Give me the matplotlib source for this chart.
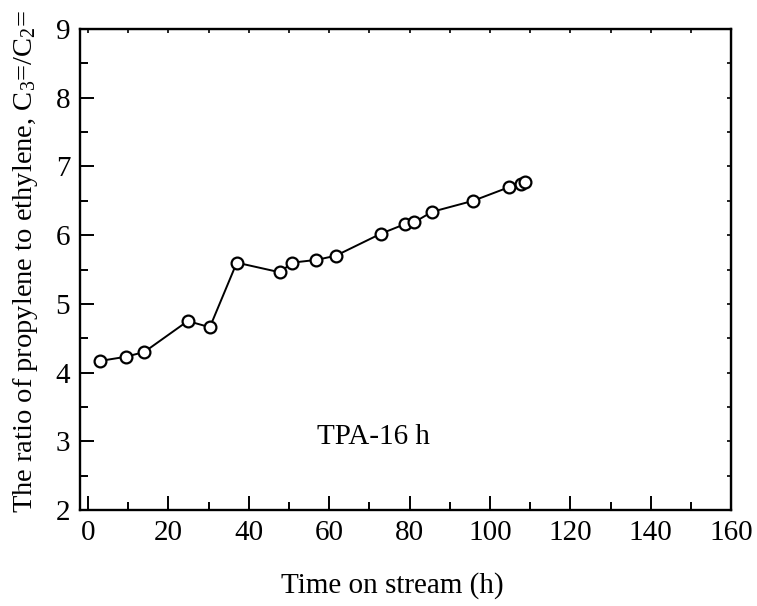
import matplotlib
matplotlib.use('Agg')
import matplotlib.pyplot as plt
from matplotlib.ticker import MultipleLocator

plt.rcParams['font.family'] = ['Liberation Serif', 'DejaVu Serif']
plt.rcParams['mathtext.fontset'] = 'custom'
plt.rcParams['mathtext.rm'] = 'Liberation Serif'
plt.rcParams['mathtext.it'] = 'Liberation Serif:italic'

# time on stream (h) and propylene/ethylene ratio
time_h = [3.0, 9.4, 14.0, 24.8, 30.3, 37.0, 47.7, 50.8, 56.8, 61.6,
          72.8, 78.8, 81.2, 85.6, 95.8, 104.8, 107.7, 108.7]
ratio = [4.17, 4.23, 4.30, 4.75, 4.66, 5.60, 5.46, 5.60, 5.64, 5.70,
         6.02, 6.16, 6.19, 6.34, 6.50, 6.70, 6.74, 6.77]

fs = 21

fig = plt.figure(figsize=(7.57, 6.06), dpi=100)
ax = fig.add_axes([0.1057, 0.1584, 0.8602, 0.7937])

ax.plot(time_h, ratio, '-', color='black', lw=1.4,
        marker='o', ms=8.5, mfc='white', mec='black', mew=1.6)

ax.set_xlim(-2, 160)
ax.set_ylim(2, 9)
ax.xaxis.set_major_locator(MultipleLocator(20))
ax.xaxis.set_minor_locator(MultipleLocator(10))
ax.yaxis.set_major_locator(MultipleLocator(1))
ax.yaxis.set_minor_locator(MultipleLocator(0.5))

ax.tick_params(which='both', direction='in', labelsize=fs, width=1.4)
ax.tick_params(which='major', length=10, pad=7)
ax.tick_params(which='minor', length=6)
for s in ax.spines.values():
    s.set_linewidth(1.7)

# short ticks on the top and right frame
top = ax.secondary_xaxis('top')
top.xaxis.set_major_locator(MultipleLocator(10))
top.tick_params(direction='in', length=3, width=1.2, labeltop=False)
right = ax.secondary_yaxis('right')
right.yaxis.set_major_locator(MultipleLocator(0.5))
right.tick_params(direction='in', length=3, width=1.2, labelright=False)

ax.text(57, 3.06, 'TPA-16 h', fontsize=fs, va='center', ha='left')

ax.set_xlabel('Time on stream (h)', fontsize=fs)
ax.xaxis.set_label_coords(0.48, -0.13)
ax.set_ylabel(r'The ratio of propylene to ethylene, C$_3$=/C$_2$=',
              fontsize=20.5)
ax.yaxis.set_label_coords(-0.062, 0.516)

fig.savefig('out.png', dpi=100)
